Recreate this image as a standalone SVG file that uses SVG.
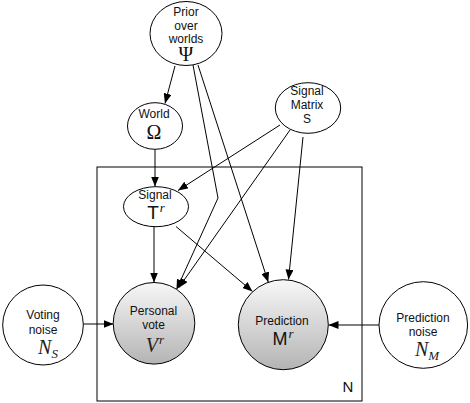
<svg xmlns="http://www.w3.org/2000/svg" width="470" height="403" viewBox="0 0 470 403">
<defs>
<marker id="arr" markerUnits="userSpaceOnUse" markerWidth="10" markerHeight="8" refX="10" refY="4" orient="auto">
<path d="M0,0 L10,4 L0,8 z" fill="#000"/>
</marker>
<linearGradient id="gray" x1="0" y1="0" x2="0" y2="1">
<stop offset="0" stop-color="#f7f7f7"/>
<stop offset="1" stop-color="#b4b4b4"/>
</linearGradient>
<style>
.n{fill:#fff;stroke:#000;stroke-width:1}
.o{fill:url(#gray);stroke:#000;stroke-width:1}
.t{font-family:"Liberation Sans",Arial,sans-serif;font-size:12px;fill:#111;text-anchor:middle}
.e{fill:none;stroke:#000;stroke-width:1;marker-end:url(#arr)}
</style>
</defs>
<rect x="97" y="167" width="265" height="234" fill="none" stroke="#000" stroke-width="1"/>
<text x="348" y="392" font-family="Liberation Sans, Arial, sans-serif" font-size="15" fill="#111" text-anchor="middle">N</text>
<g id="edges">
<path class="e" d="M175,66 L165,103.5"/>
<path class="e" d="M193,65 L218,198 L176.5,289.5"/>
<path class="e" d="M198,65 L268.3,282.3"/>
<path class="e" d="M280,125 L178,190.5"/>
<path class="e" d="M290,130 L178.5,288"/>
<path class="e" d="M303,137 L288.5,279.5"/>
<path class="e" d="M155,149.5 L155,186.5"/>
<path class="e" d="M154,227 L154,282.5"/>
<path class="e" d="M176,226.5 L252.5,291.5"/>
<path class="e" d="M83.5,324 L113.5,324"/>
<path class="e" d="M379,325 L328.5,325"/>
</g>
<g id="prior">
<ellipse class="n" cx="186" cy="33.5" rx="36" ry="32"/>
<text class="t" x="186" y="16">Prior</text>
<text class="t" x="186" y="30">over</text>
<text class="t" x="186" y="43">worlds</text>
<text x="186" y="61" font-family="Liberation Serif, Times New Roman, serif" font-size="20" fill="#111" text-anchor="middle">Ψ</text>
</g>
<g id="world">
<ellipse class="n" cx="155" cy="126" rx="27.5" ry="23.3"/>
<text class="t" x="154" y="118">World</text>
<text x="154" y="139" font-family="Liberation Serif, Times New Roman, serif" font-size="20" fill="#111" text-anchor="middle">Ω</text>
</g>
<g id="signalmatrix">
<ellipse class="n" cx="308" cy="108" rx="32.7" ry="25.3"/>
<text class="t" x="307" y="95">Signal</text>
<text class="t" x="307" y="109">Matrix</text>
<text class="t" x="307" y="123">S</text>
</g>
<g id="signal">
<ellipse class="n" cx="156" cy="206.7" rx="32.5" ry="20"/>
<text class="t" x="155" y="199">Signal</text>
<text x="156" y="219" text-anchor="middle" fill="#111"><tspan font-family="Liberation Sans, Arial, sans-serif" font-size="19">T</tspan><tspan font-family="Liberation Serif, Times New Roman, serif" font-style="italic" font-size="13" dx="1" dy="-7">r</tspan></text>
</g>
<g id="vote">
<circle class="o" cx="154" cy="323.3" r="40.8"/>
<text class="t" x="153.5" y="315">Personal</text>
<text class="t" x="153.5" y="329">vote</text>
<text x="155" y="352" text-anchor="middle" fill="#222"><tspan font-family="Liberation Serif, Times New Roman, serif" font-style="italic" font-size="20">V</tspan><tspan font-family="Liberation Serif, Times New Roman, serif" font-style="italic" font-size="13" dx="1" dy="-8">r</tspan></text>
</g>
<g id="prediction">
<circle class="o" cx="283.3" cy="324.7" r="45"/>
<text class="t" x="282" y="325">Prediction</text>
<text x="283" y="345" text-anchor="middle" fill="#111"><tspan font-family="Liberation Sans, Arial, sans-serif" font-size="18">M</tspan><tspan font-family="Liberation Serif, Times New Roman, serif" font-style="italic" font-size="13" dx="1" dy="-7">r</tspan></text>
</g>
<g id="votingnoise">
<ellipse class="n" cx="43" cy="325" rx="40.3" ry="40"/>
<text class="t" x="43" y="319">Voting</text>
<text class="t" x="43" y="334">noise</text>
<text x="48" y="354" text-anchor="middle" fill="#222"><tspan font-family="Liberation Serif, Times New Roman, serif" font-style="italic" font-size="20">N</tspan><tspan font-family="Liberation Serif, Times New Roman, serif" font-style="italic" font-size="13" dy="4">S</tspan></text>
</g>
<g id="predictionnoise">
<ellipse class="n" cx="423.3" cy="325" rx="44.3" ry="43.3"/>
<text class="t" x="423" y="322">Prediction</text>
<text class="t" x="423" y="336">noise</text>
<text x="427" y="356" text-anchor="middle" fill="#222"><tspan font-family="Liberation Serif, Times New Roman, serif" font-style="italic" font-size="20">N</tspan><tspan font-family="Liberation Serif, Times New Roman, serif" font-style="italic" font-size="13" dy="4">M</tspan></text>
</g>
</svg>
